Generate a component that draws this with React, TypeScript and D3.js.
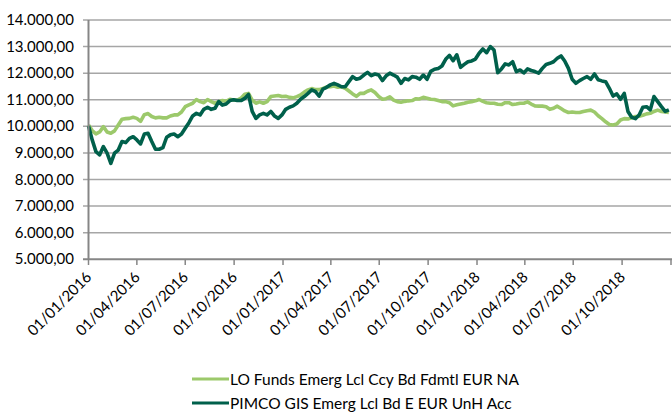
import React, { useEffect, useRef } from 'react';
import * as d3 from 'd3';

// weekly observations from 01/01/2016
const loFunds = [
  10050, 9840, 9720, 9790, 9990, 9790, 9740, 9830, 10050, 10270, 10290, 10300, 10340, 10300, 10190, 10440, 10480,
  10370, 10320, 10340, 10320, 10320, 10390, 10430, 10430, 10540, 10740, 10810, 10870, 11010, 10930, 10890, 11010,
  10930, 10870, 10930, 10970, 10940, 11020, 10990, 10990, 11060, 11210, 11240, 10990, 10870, 10920, 10870, 10930,
  11120, 11140, 11160, 11120, 11130, 11090, 11070, 11120, 11180, 11290, 11370, 11420, 11380, 11380, 11420, 11480,
  11490, 11520, 11470,
  11490, 11430, 11330, 11220, 11130, 11240, 11240, 11320, 11370, 11270, 11120, 11020, 11040, 11110, 10990, 10930,
  10910, 10940, 10960, 10970, 11040, 11030, 11090, 11060, 11020, 11010, 10970, 10930, 10930, 10890, 10770, 10810,
  10840, 10870, 10910, 10930, 10960, 11010, 10940, 10890, 10870, 10870, 10830, 10820, 10890, 10890, 10820, 10840,
  10870, 10870, 10920, 10840, 10770, 10760, 10760, 10740, 10640, 10680, 10760, 10670, 10580, 10520, 10540, 10520,
  10520, 10560, 10590, 10610, 10540, 10400, 10290, 10170, 10070, 10050, 10090, 10240, 10290, 10280, 10320, 10370,
  10380, 10420, 10470, 10490, 10560, 10610, 10560, 10540, 10520,
];

const pimco = [
  10010, 9490, 9050, 8930, 9240, 8990, 8610, 8990, 9110, 9430, 9390, 9550, 9610, 9490, 9340, 9710, 9740, 9430,
  9140, 9140, 9200, 9590, 9680, 9710, 9610, 9710, 9930, 10140, 10390, 10490, 10430, 10640, 10720, 10640, 10680,
  10930, 10800, 10840, 10970, 11000, 10970, 10970, 11050, 11200, 10560, 10300, 10430, 10490, 10430, 10560, 10390,
  10300, 10430, 10640, 10720, 10770, 10870, 11020, 11120, 11240, 11370, 11310, 11140, 11400, 11470, 11560, 11620,
  11560,
  11490, 11490, 11680, 11870, 11770, 11810, 11930, 12030, 11910, 11970, 11930, 11720, 11900, 12000, 11930, 11850,
  11620, 11800, 11750, 11870, 11850, 11770, 11930, 11770, 12070, 12150, 12180, 12270, 12520, 12670, 12470, 12690,
  12220, 12330, 12430, 12460, 12530, 12750, 12910, 12770, 13000, 12870, 12020, 12160, 12350, 12310, 12430, 12060,
  12120, 12010, 12160, 12100, 12060, 12000, 12180, 12330, 12370, 12430, 12560, 12650, 12460, 12180, 11770, 11620,
  11720, 11800, 11870, 11770, 11970, 11750, 11710, 11680, 11430, 11140, 11220, 11020, 11240, 10560, 10340, 10290,
  10430, 10720, 10740, 10620, 11120, 10930, 10740, 10560, 10620,
];

const xTickLabels = [
  '01/01/2016', '01/04/2016', '01/07/2016', '01/10/2016', '01/01/2017', '01/04/2017', '01/07/2017',
  '01/10/2017', '01/01/2018', '01/04/2018', '01/07/2018', '01/10/2018',
];
const yTicks = [5000, 6000, 7000, 8000, 9000, 10000, 11000, 12000, 13000, 14000];

const seriesNames = ['LO Funds Emerg Lcl Ccy Bd Fdmtl EUR NA', 'PIMCO GIS Emerg Lcl Bd E EUR UnH Acc'];
const colors = ['#9cc96b', '#00604b'];

export default function App() {
  const svgRef = useRef<SVGSVGElement>(null);

  useEffect(() => {
    const svg = d3.select(svgRef.current);
    svg.selectAll('*').remove();

    const width = 672;
    const height = 416;
    const font = 'Lato, "Open Sans", sans-serif';
    svg.attr('width', width).attr('height', height);

    const parse = d3.timeParse('%d/%m/%Y');
    const start = parse('01/01/2016') as Date;
    const end = parse('01/01/2019') as Date;
    const dates = loFunds.map((_, i) => d3.timeDay.offset(start, 7 * i));

    const x = d3.scaleTime().domain([start, end]).range([88.5, 671]);
    const y = d3.scaleLinear().domain([5000, 14000]).range([259.3, 20]);

    const locale = d3.formatLocale({ decimal: ',', thousands: '.', grouping: [3], currency: ['', ''] });
    const fmt = locale.format(',.2f');

    // gridlines
    svg
      .append('g')
      .selectAll('line')
      .data(yTicks.slice(1))
      .join('line')
      .attr('x1', 83)
      .attr('x2', 671)
      .attr('y1', (d) => y(d))
      .attr('y2', (d) => y(d))
      .attr('stroke', '#a6a6a6')
      .attr('stroke-width', 1.5);

    // y labels
    svg
      .append('g')
      .selectAll('text')
      .data(yTicks)
      .join('text')
      .attr('x', 74)
      .attr('y', (d) => y(d) + 5)
      .attr('text-anchor', 'end')
      .attr('font-family', font)
      .attr('font-size', 15)
      .attr('fill', '#000')
      .text((d) => fmt(d));

    // lines
    const line = d3
      .line<number>()
      .x((_, i) => x(dates[i]))
      .y((d) => y(d));

    [loFunds, pimco].forEach((s, k) => {
      svg
        .append('path')
        .datum(s)
        .attr('fill', 'none')
        .attr('stroke', colors[k])
        .attr('stroke-width', 3.6)
        .attr('stroke-linejoin', 'round')
        .attr('d', line);
    });

    // axes
    svg
      .append('line')
      .attr('x1', 88.5)
      .attr('x2', 88.5)
      .attr('y1', 20)
      .attr('y2', 260)
      .attr('stroke', '#868686')
      .attr('stroke-width', 2);
    svg
      .append('line')
      .attr('x1', 83)
      .attr('x2', 672)
      .attr('y1', 259.3)
      .attr('y2', 259.3)
      .attr('stroke', '#868686')
      .attr('stroke-width', 2);

    const tickDates = [...xTickLabels.map((t) => parse(t) as Date), end];
    svg
      .append('g')
      .selectAll('line')
      .data(tickDates)
      .join('line')
      .attr('x1', (d) => x(d))
      .attr('x2', (d) => x(d))
      .attr('y1', 259)
      .attr('y2', 265)
      .attr('stroke', '#868686')
      .attr('stroke-width', 1.5);

    svg
      .append('g')
      .selectAll('text')
      .data(xTickLabels)
      .join('text')
      .attr('transform', (d) => `translate(${x(parse(d) as Date) + 4},${278}) rotate(-45)`)
      .attr('text-anchor', 'end')
      .attr('font-family', font)
      .attr('font-size', 15)
      .attr('fill', '#000')
      .text((d) => d);

    // legend
    const legend = svg
      .append('g')
      .selectAll('g')
      .data(seriesNames)
      .join('g')
      .attr('transform', (_, i) => `translate(192,${379 + i * 24})`);
    legend
      .append('line')
      .attr('x1', 0)
      .attr('x2', 37)
      .attr('stroke', (_, i) => colors[i])
      .attr('stroke-width', 3.2);
    legend
      .append('text')
      .attr('x', 38)
      .attr('y', 5.5)
      .attr('font-family', font)
      .attr('font-size', 15.5)
      .attr('fill', '#000')
      .text((d) => d);
  }, []);

  return (
    <div style={{ position: 'absolute', left: 0, top: 0 }}>
      <svg ref={svgRef}></svg>
    </div>
  );
}
